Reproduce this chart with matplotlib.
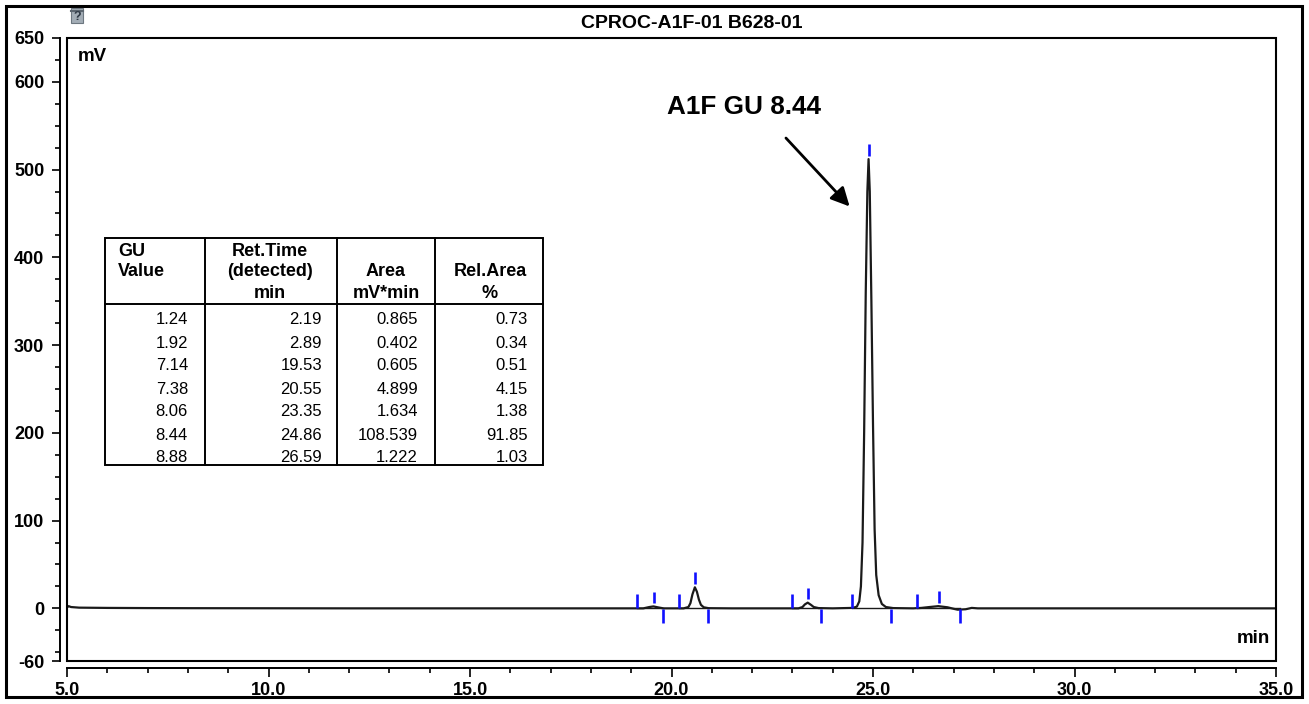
import numpy as np
import matplotlib
matplotlib.use('Agg')
import matplotlib.pyplot as plt
from matplotlib.patches import Rectangle

plt.rcParams['font.family'] = ['Liberation Sans', 'DejaVu Sans']

# chromatogram trace (min, mV)
trace_t = [5.00, 5.04, 5.10, 5.30, 6.0, 7.0, 8.0, 10.0, 12.0, 14.0, 16.0, 18.0, 19.0,
           19.30, 19.45, 19.55, 19.68, 19.80, 20.10, 20.30, 20.42, 20.47, 20.52, 20.58,
           20.63, 20.68, 20.73, 20.80, 20.92, 21.5, 22.5, 23.00, 23.15, 23.25, 23.31,
           23.38, 23.46, 23.53, 23.65, 24.0, 24.50, 24.60, 24.66, 24.70, 24.74, 24.78,
           24.82, 24.86, 24.89, 24.92, 24.96, 25.00, 25.04, 25.08, 25.14, 25.22, 25.32,
           25.50, 26.0, 26.2, 26.4, 26.62, 26.85, 27.0, 27.1, 27.3, 27.45, 27.6, 28.5,
           30.0, 32.0, 34.0, 35.0]
trace_mv = [1.0, 2.5, 1.5, 0.8, 0.5, 0.3, 0.2, 0.1, 0.0, 0.0, 0.0, 0.0, 0.0,
            0.0, 1.5, 2.2, 1.0, 0.0, 0.0, 0.0, 1.5, 6.0, 16.0, 24.0,
            19.0, 10.0, 4.0, 1.2, 0.2, 0.0, 0.0, 0.0, 0.0, 1.5, 4.5,
            6.5, 4.0, 1.5, 0.3, 0.0, 0.5, 2.0, 8.0, 25.0, 75.0, 200.0,
            360.0, 475.0, 512.0, 475.0, 350.0, 210.0, 90.0, 38.0, 15.0, 5.0, 1.5,
            0.3, 0.0, 0.5, 1.5, 2.5, 1.2, -0.5, -1.5, -1.0, 0.5, 0.0, 0.0,
            0.0, 0.0, 0.0, 0.0]

# integration marks (blue)
peak_start = [19.14, 20.19, 22.99, 24.48, 26.09]
peak_end = [19.79, 20.91, 23.71, 25.45, 27.16]
apex_t = [19.57, 20.58, 23.39, 24.89, 26.64]
apex_mv = [2.2, 24.0, 6.5, 512.0, 2.5]

# peak table
gu_value = [1.24, 1.92, 7.14, 7.38, 8.06, 8.44, 8.88]
ret_time = [2.19, 2.89, 19.53, 20.55, 23.35, 24.86, 26.59]
area = [0.865, 0.402, 0.605, 4.899, 1.634, 108.539, 1.222]
rel_area = [0.73, 0.34, 0.51, 4.15, 1.38, 91.85, 1.03]

W, H = 1309, 704
fig = plt.figure(figsize=(W / 100, H / 100), dpi=100)

# main plot area, pixel box 67..1276 x 38..661
ax = fig.add_axes([67 / W, 1 - 661 / H, (1276 - 67) / W, (661 - 38) / H])
ax.set_xlim(5, 35)
ax.set_ylim(-60, 650)

ax.plot(trace_t, trace_mv, color='#1a1a1a', lw=1.6, zorder=3)
for s, e in zip(peak_start, peak_end):
    ax.plot([s, e], [0, 0], color='#1a1a1a', lw=1.0, zorder=2)
ax.vlines(peak_start, 0, 16, color='#1010ff', lw=1.9, zorder=4)
ax.vlines(peak_end, -17, -1, color='#1010ff', lw=1.9, zorder=4)
ax.vlines(apex_t, np.array(apex_mv) + 4, np.array(apex_mv) + 17, color='#1010ff', lw=1.9, zorder=4)

# spines: detached left/bottom axis lines, box drawn separately
for side in ['top', 'right']:
    ax.spines[side].set_visible(False)
ax.spines['left'].set_position(('outward', 5.0))
ax.spines['bottom'].set_position(('outward', 5.0))
ax.spines['left'].set_linewidth(1.4)
ax.spines['bottom'].set_linewidth(1.4)
ax.add_patch(Rectangle((0, 0), 1, 1, transform=ax.transAxes, fill=False,
                       lw=1.5, ec='black', clip_on=False, zorder=5))

yticks = [650, 600, 500, 400, 300, 200, 100, 0, -60]
ax.set_yticks(yticks)
ax.set_yticklabels([str(v) for v in yticks])
ax.set_yticks([v for v in range(-50, 650, 25) if v not in yticks], minor=True)
xticks = [5, 10, 15, 20, 25, 30, 35]
ax.set_xticks(xticks)
ax.set_xticklabels(['%.1f' % v for v in xticks])
ax.set_xticks([v for v in range(6, 35) if v % 5 != 0], minor=True)
ax.tick_params(axis='y', which='major', length=5.8, width=1.2, pad=5.5,
               labelsize=13, direction='out')
ax.tick_params(axis='y', which='minor', length=3.6, width=1.2, direction='out')
ax.tick_params(axis='x', which='major', length=6.5, width=1.2, pad=3.5,
               labelsize=13, direction='out')
ax.tick_params(axis='x', which='minor', length=3.6, width=1.2, direction='out')
for lab in ax.get_xticklabels() + ax.get_yticklabels():
    lab.set_fontweight('bold')

ax.text(0.009, 0.971, 'mV', transform=ax.transAxes, fontsize=13.5,
        fontweight='bold', ha='left', va='center')
ax.text(0.995, 0.036, 'min', transform=ax.transAxes, fontsize=13.5,
        fontweight='bold', ha='right', va='center')

ax.text(19.88, 571, 'A1F GU 8.44', fontsize=18.8, fontweight='bold',
        ha='left', va='center')
ax.annotate('', xy=(24.42, 458), xytext=(22.84, 536),
            arrowprops=dict(arrowstyle='-|>', lw=2, color='black',
                            mutation_scale=28, shrinkA=0, shrinkB=0))

# overlay in pixel coordinates for frame, title, icon and table
ov = fig.add_axes([0, 0, 1, 1], zorder=10)
ov.set_xlim(0, W)
ov.set_ylim(H, 0)
ov.axis('off')
ov.patch.set_alpha(0)

ov.add_patch(Rectangle((6, 6), 1296, 691, fill=False, lw=2.2, ec='black'))
ov.text(692, 23, 'CPROC-A1F-01 B628-01', fontsize=14, fontweight='bold',
        ha='center', va='center')
ov.add_patch(Rectangle((71, 8), 12, 15, fc='#a3adb6', ec='#6d7780', lw=0.8))
ov.plot([71, 83], [11, 11], color='#5c6670', lw=1.5)
ov.text(77, 17.5, '?', fontsize=9, fontweight='bold', color='#2f3a46',
        ha='center', va='center')

# table
tl, tr, tt, tb = 105, 543, 238, 465
ov.add_patch(Rectangle((tl, tt), tr - tl, tb - tt, fc='white', ec='black', lw=1.4))
for xv in [205, 337, 435]:
    ov.plot([xv, xv], [tt, tb], color='black', lw=1.4)
ov.plot([tl, tr], [304, 304], color='black', lw=1.4)

hdr = dict(fontsize=13, fontweight='bold', va='center')
ov.text(118, 251, 'GU', ha='left', **hdr)
ov.text(118, 272, 'Value', ha='left', **hdr)
ov.text(270, 251, 'Ret.Time', ha='center', **hdr)
ov.text(270, 272, '(detected)', ha='center', **hdr)
ov.text(270, 293, 'min', ha='center', **hdr)
ov.text(386, 272, 'Area', ha='center', **hdr)
ov.text(386, 293, 'mV*min', ha='center', **hdr)
ov.text(490, 272, 'Rel.Area', ha='center', **hdr)
ov.text(490, 293, '%', ha='center', **hdr)

cols = [(gu_value, '%.2f', 188), (ret_time, '%.2f', 322),
        (area, '%.3f', 418), (rel_area, '%.2f', 528)]
for vals, fmt, xr in cols:
    for i, v in enumerate(vals):
        ov.text(xr, 320 + 23 * i, fmt % v, fontsize=12, ha='right', va='center')

fig.savefig('out.png', dpi=100)
